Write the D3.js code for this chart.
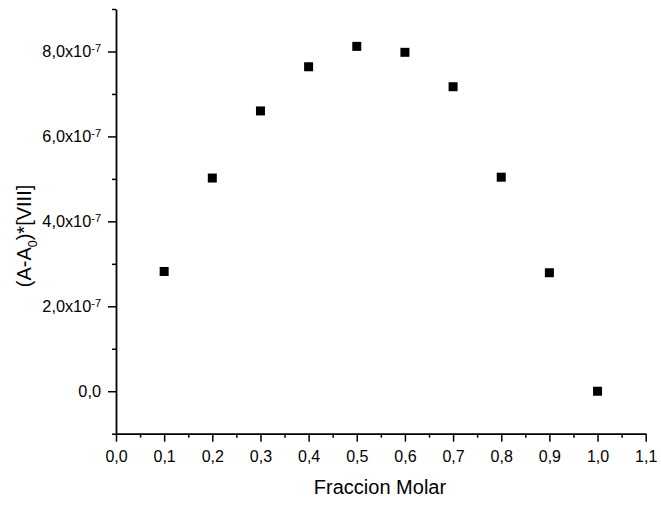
<!DOCTYPE html>
<html>
<head>
<meta charset="utf-8">
<script src="https://cdn.jsdelivr.net/npm/d3@7"></script>
<style>
    body { margin: 0; background: #fff; }
    svg { display: block; font-family: "Liberation Sans", Arial, sans-serif; }
</style>
</head>
<body>
<svg id="chart" width="661" height="505"></svg>
<script>
// data
let fractions = [0.1, 0.2, 0.3, 0.4, 0.5, 0.6, 0.7, 0.8, 0.9, 1.0];
let values = [2.82e-7, 5.02e-7, 6.60e-7, 7.64e-7, 8.12e-7, 7.98e-7, 7.17e-7, 5.04e-7, 2.79e-7, 0.0];
let xTicks = [0, 0.1, 0.2, 0.3, 0.4, 0.5, 0.6, 0.7, 0.8, 0.9, 1.0, 1.1];
let yTicks = [0, 2e-7, 4e-7, 6e-7, 8e-7];

let svg = d3.select('#chart');

let plotLeft = 116, plotRight = 645.7, plotTop = 9, plotBottom = 433.7;

let xScale = d3.scaleLinear().domain([0, 1.1]).range([plotLeft, plotRight]);
let yScale = d3.scaleLinear().domain([-1e-7, 9e-7]).range([plotBottom, plotTop]);

let comma = v => v.toFixed(1).replace('.', ',');

// minor ticks first (no labels)
let xMinor = d3.range(0.05, 1.1, 0.1);
let yMinor = [-1e-7, 1e-7, 3e-7, 5e-7, 7e-7, 9e-7];

svg.append('g')
    .attr('transform', 'translate(0,' + plotBottom + ')')
    .call(d3.axisBottom(xScale).tickValues(xMinor).tickSize(4).tickSizeOuter(0).tickFormat(''))
    .call(g => g.select('.domain').remove())
    .selectAll('line').attr('stroke-width', 1.5);

svg.append('g')
    .attr('transform', 'translate(' + plotLeft + ',0)')
    .call(d3.axisLeft(yScale).tickValues(yMinor).tickSize(4).tickSizeOuter(0).tickFormat(''))
    .call(g => g.select('.domain').remove())
    .selectAll('line').attr('stroke-width', 1.5);

// x axis
let gX = svg.append('g')
    .attr('transform', 'translate(0,' + plotBottom + ')')
    .call(d3.axisBottom(xScale).tickValues(xTicks).tickSize(8).tickSizeOuter(0).tickPadding(9).tickFormat(comma));
gX.select('.domain').attr('stroke-width', 1.8);
gX.selectAll('line').attr('stroke-width', 1.5);
gX.selectAll('text').attr('font-size', 16).attr('fill', '#000');

// y axis
let gY = svg.append('g')
    .attr('transform', 'translate(' + plotLeft + ',0)')
    .call(d3.axisLeft(yScale).tickValues(yTicks).tickSize(8).tickSizeOuter(0).tickPadding(7).tickFormat(''));
gY.select('.domain').attr('stroke-width', 1.8);
gY.selectAll('line').attr('stroke-width', 1.5);

gY.selectAll('.tick text')
    .attr('font-size', 16.3)
    .attr('fill', '#000')
    .each(function(d) {
        let t = d3.select(this);
        if (d === 0) {
            t.text('0,0');
            return;
        }
        t.append('tspan').text(comma(d / 1e-7) + 'x10');
        t.append('tspan').attr('dy', '-0.5em').attr('font-size', 11).text('-7');
    });

// points
let size = 9;
svg.append('g')
    .selectAll('rect')
    .data(fractions)
    .enter()
    .append('rect')
    .attr('x', (d, i) => xScale(d) - size / 2)
    .attr('y', (d, i) => yScale(values[i]) - size / 2)
    .attr('width', size)
    .attr('height', size)
    .attr('fill', '#000');

// axis titles
svg.append('text')
    .attr('x', 380)
    .attr('y', 494)
    .attr('text-anchor', 'middle')
    .attr('font-size', 20)
    .text('Fraccion Molar');

let yTitle = svg.append('text')
    .attr('transform', 'translate(31,236) rotate(-90)')
    .attr('text-anchor', 'middle')
    .attr('font-size', 20);
yTitle.append('tspan').text('(A-A');
yTitle.append('tspan').attr('dy', 6).attr('font-size', 12.5).text('0');
yTitle.append('tspan').attr('dy', -6).text(')*[VIII]');
</script>
</body>
</html>
